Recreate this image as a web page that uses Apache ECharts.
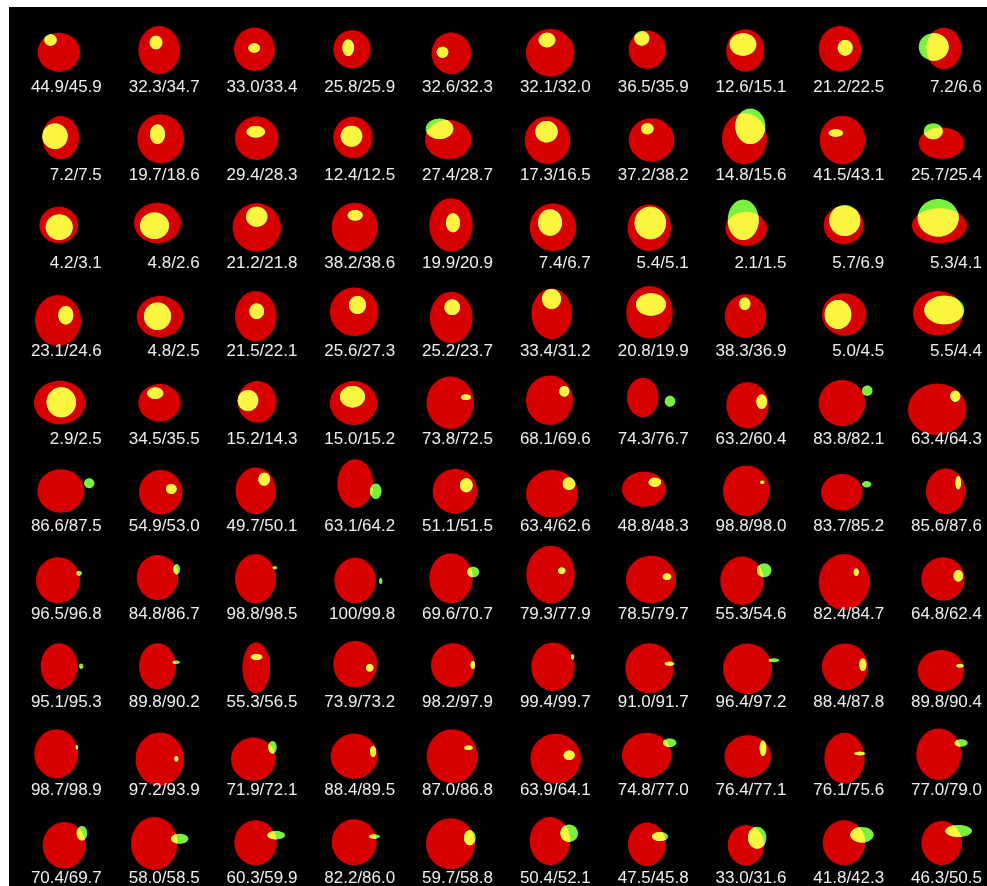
<!DOCTYPE html>
<html>
<head>
<meta charset="utf-8">
<title>Ellipse grid</title>
<script src="https://cdn.jsdelivr.net/npm/echarts@6/dist/echarts.min.js"></script>
<style>
  html, body { margin: 0; padding: 0; background: #ffffff; }
  #chart { width: 987px; height: 886px; }
</style>
</head>
<body>
<div id="chart"></div>
<script>
// Caption of every cell, row by row (10 x 10 grid)
const labels = [
  '44.9/45.9', '32.3/34.7', '33.0/33.4', '25.8/25.9', '32.6/32.3', '32.1/32.0', '36.5/35.9', '12.6/15.1', '21.2/22.5', '7.2/6.6',
  '7.2/7.5', '19.7/18.6', '29.4/28.3', '12.4/12.5', '27.4/28.7', '17.3/16.5', '37.2/38.2', '14.8/15.6', '41.5/43.1', '25.7/25.4',
  '4.2/3.1', '4.8/2.6', '21.2/21.8', '38.2/38.6', '19.9/20.9', '7.4/6.7', '5.4/5.1', '2.1/1.5', '5.7/6.9', '5.3/4.1',
  '23.1/24.6', '4.8/2.5', '21.5/22.1', '25.6/27.3', '25.2/23.7', '33.4/31.2', '20.8/19.9', '38.3/36.9', '5.0/4.5', '5.5/4.4',
  '2.9/2.5', '34.5/35.5', '15.2/14.3', '15.0/15.2', '73.8/72.5', '68.1/69.6', '74.3/76.7', '63.2/60.4', '83.8/82.1', '63.4/64.3',
  '86.6/87.5', '54.9/53.0', '49.7/50.1', '63.1/64.2', '51.1/51.5', '63.4/62.6', '48.8/48.3', '98.8/98.0', '83.7/85.2', '85.6/87.6',
  '96.5/96.8', '84.8/86.7', '98.8/98.5', '100/99.8', '69.6/70.7', '79.3/77.9', '78.5/79.7', '55.3/54.6', '82.4/84.7', '64.8/62.4',
  '95.1/95.3', '89.8/90.2', '55.3/56.5', '73.9/73.2', '98.2/97.9', '99.4/99.7', '91.0/91.7', '96.4/97.2', '88.4/87.8', '89.8/90.4',
  '98.7/98.9', '97.2/93.9', '71.9/72.1', '88.4/89.5', '87.0/86.8', '63.9/64.1', '74.8/77.0', '76.4/77.1', '76.1/75.6', '77.0/79.0',
  '70.4/69.7', '58.0/58.5', '60.3/59.9', '82.2/86.0', '59.7/58.8', '50.4/52.1', '47.5/45.8', '33.0/31.6', '41.8/42.3', '46.3/50.5'
];

// Large (red) ellipse: centre x, centre y, radius x, radius y
const redCx = [
  58.8, 159.2, 254.5, 352.0, 451.3, 550.2, 647.3, 745.3, 840.0, 943.8,
  60.7, 160.7, 256.7, 353.0, 448.3, 547.5, 651.5, 744.5, 842.5, 941.5,
  58.8, 157.5, 256.8, 354.7, 451.0, 553.0, 649.3, 746.2, 843.7, 939.5,
  58.0, 160.0, 255.8, 354.2, 451.3, 551.7, 649.5, 745.5, 844.2, 938.0,
  59.8, 159.5, 257.2, 353.7, 450.3, 549.5, 642.8, 747.5, 842.0, 937.2,
  60.8, 160.7, 255.8, 355.3, 455.0, 552.0, 644.0, 746.3, 841.8, 945.7,
  58.0, 157.5, 255.5, 355.2, 451.0, 550.5, 651.0, 742.0, 844.2, 943.0,
  59.2, 157.5, 256.2, 355.3, 453.0, 553.0, 649.5, 747.5, 845.0, 941.0,
  56.3, 159.8, 253.3, 354.2, 452.2, 555.7, 646.7, 747.7, 844.5, 938.8,
  64.2, 154.3, 255.5, 354.2, 450.5, 550.0, 647.0, 746.0, 844.0, 941.7
];
const redCy = [
  52.2, 50.0, 49.3, 49.2, 53.2, 52.8, 49.8, 50.5, 48.8, 48.5,
  137.7, 138.8, 138.3, 137.5, 139.7, 140.3, 140.0, 138.8, 140.0, 143.3,
  225.0, 223.0, 227.5, 227.2, 225.0, 227.2, 227.7, 228.7, 225.2, 225.8,
  320.5, 316.7, 316.3, 311.7, 317.5, 313.7, 312.2, 316.0, 314.5, 313.3,
  402.5, 402.8, 401.8, 403.0, 402.8, 400.3, 397.5, 405.3, 403.0, 409.2,
  491.0, 492.2, 490.7, 483.5, 491.2, 493.7, 489.2, 490.8, 492.3, 491.2,
  580.3, 577.5, 578.7, 580.5, 578.3, 574.5, 579.5, 580.8, 582.0, 579.0,
  666.3, 666.3, 667.8, 664.2, 665.3, 666.7, 668.3, 668.7, 666.7, 670.8,
  753.8, 759.3, 759.3, 756.2, 756.3, 758.7, 755.2, 756.5, 758.2, 754.3,
  845.2, 843.5, 842.8, 842.3, 843.8, 841.0, 844.3, 845.2, 842.8, 843.0
];
const redRx = [
  21.2, 20.8, 20.5, 18.7, 19.7, 24.2, 18.7, 19.0, 21.3, 17.5,
  18.3, 23.3, 21.7, 19.7, 23.3, 22.8, 22.8, 22.5, 22.8, 22.8,
  19.5, 23.5, 24.2, 23.0, 21.7, 23.3, 21.7, 20.8, 20.0, 27.5,
  23.0, 23.3, 20.8, 24.2, 21.3, 20.3, 23.2, 20.8, 22.2, 25.0,
  25.8, 21.2, 19.5, 23.7, 23.7, 23.5, 15.8, 21.2, 23.3, 29.2,
  23.5, 21.7, 20.2, 18.0, 22.3, 26.0, 22.0, 23.3, 20.8, 19.7,
  22.0, 20.8, 20.5, 20.8, 21.7, 24.2, 25.0, 21.7, 25.5, 21.7,
  18.5, 18.5, 13.8, 22.0, 22.0, 21.7, 24.2, 24.5, 23.0, 23.3,
  22.0, 24.2, 22.3, 23.5, 25.5, 25.3, 24.7, 23.3, 20.2, 22.5,
  21.5, 23.3, 21.2, 22.5, 24.5, 20.3, 19.0, 18.3, 21.3, 20.3
];
const redRy = [
  19.5, 24.0, 21.7, 19.2, 20.8, 23.8, 19.2, 21.2, 22.8, 20.8,
  21.7, 24.5, 21.7, 20.8, 19.7, 23.7, 21.7, 25.5, 24.3, 15.7,
  18.3, 20.3, 24.2, 24.5, 26.7, 23.8, 23.3, 17.0, 19.2, 17.5,
  25.5, 20.7, 25.3, 24.3, 25.8, 25.3, 26.2, 21.7, 21.2, 22.3,
  21.8, 18.8, 20.8, 22.0, 26.2, 24.7, 19.8, 23.0, 23.0, 25.8,
  21.7, 22.2, 23.3, 24.2, 22.2, 23.7, 17.5, 25.2, 18.3, 22.8,
  23.0, 22.5, 24.7, 22.8, 25.0, 28.8, 23.8, 24.2, 28.0, 21.7,
  23.0, 23.0, 25.5, 23.2, 22.0, 24.3, 25.0, 25.3, 23.3, 20.8,
  24.5, 26.7, 21.7, 22.5, 27.0, 25.0, 22.5, 21.2, 25.5, 25.7,
  23.2, 26.5, 22.5, 23.0, 25.5, 24.0, 21.7, 20.2, 22.5, 22.0
];

// Small ellipse: centre x, centre y, radius x, radius y
const smallCx = [
  50.5, 156.0, 254.2, 348.2, 442.5, 547.0, 641.8, 743.0, 845.2, 933.7,
  55.0, 157.5, 255.8, 351.5, 439.5, 546.5, 647.3, 750.3, 835.8, 933.2,
  59.2, 154.5, 256.7, 355.2, 453.0, 550.0, 650.3, 743.2, 844.8, 938.2,
  65.8, 157.5, 256.7, 357.5, 452.2, 551.5, 651.0, 744.8, 838.0, 944.3,
  61.3, 155.3, 248.0, 352.5, 466.0, 564.3, 670.0, 761.7, 867.3, 955.3,
  89.2, 171.3, 264.2, 375.8, 466.3, 569.0, 654.8, 762.3, 866.7, 958.2,
  79.3, 176.7, 275.0, 380.7, 473.3, 561.7, 667.0, 764.2, 856.2, 958.3,
  81.2, 176.3, 256.5, 369.7, 472.8, 572.7, 669.7, 774.0, 862.8, 960.0,
  77.0, 176.3, 272.5, 373.0, 468.5, 569.2, 669.7, 763.0, 859.8, 961.2,
  82.0, 179.7, 276.2, 374.5, 469.8, 569.2, 660.0, 757.2, 862.0, 958.7
];
const smallCy = [
  40.0, 42.5, 48.0, 47.7, 52.2, 40.0, 38.3, 44.5, 47.8, 47.0,
  136.2, 134.2, 131.8, 136.2, 128.7, 131.7, 128.8, 126.2, 133.0, 131.3,
  227.2, 225.7, 216.7, 215.3, 222.8, 222.5, 223.0, 219.7, 220.5, 217.8,
  315.2, 316.3, 311.2, 305.0, 307.2, 299.0, 304.5, 303.8, 314.5, 310.0,
  402.3, 393.2, 400.5, 396.7, 397.2, 391.3, 401.2, 401.7, 390.8, 396.2,
  483.3, 489.0, 479.2, 491.2, 485.3, 483.7, 482.2, 482.3, 484.2, 482.7,
  573.2, 569.2, 567.7, 581.0, 572.0, 570.7, 576.7, 570.3, 572.2, 575.8,
  666.2, 662.3, 657.0, 667.8, 665.0, 656.7, 663.7, 660.3, 664.7, 665.8,
  747.2, 758.8, 747.3, 751.5, 747.7, 755.2, 742.7, 748.2, 753.5, 743.0,
  833.2, 838.7, 835.2, 836.5, 837.8, 833.2, 836.5, 837.7, 834.8, 831.0
];
const smallRx = [
  6.2, 6.3, 5.8, 5.8, 5.8, 8.3, 7.5, 13.3, 7.5, 15.0,
  12.7, 7.5, 9.2, 10.8, 13.8, 11.2, 6.3, 15.0, 7.2, 9.5,
  13.5, 14.5, 10.7, 7.5, 7.0, 12.0, 15.7, 15.5, 15.5, 20.5,
  7.5, 13.5, 7.3, 8.5, 7.8, 9.5, 15.0, 5.5, 13.3, 20.0,
  14.7, 8.0, 10.3, 12.5, 5.0, 5.0, 5.3, 5.3, 5.3, 5.0,
  5.2, 5.3, 5.8, 5.8, 6.3, 6.3, 6.2, 2.0, 4.7, 2.8,
  2.7, 3.3, 2.3, 1.7, 6.0, 3.7, 4.3, 7.2, 2.5, 4.7,
  2.2, 3.7, 5.8, 3.7, 2.2, 1.7, 5.0, 5.3, 3.5, 3.7,
  1.3, 2.0, 4.2, 3.0, 4.2, 5.5, 6.7, 3.3, 5.5, 6.5,
  5.3, 8.7, 8.8, 5.5, 5.8, 8.8, 8.0, 9.2, 11.7, 13.3
];
const smallRy = [
  5.7, 6.8, 4.7, 8.3, 5.5, 7.3, 7.3, 11.2, 7.8, 13.7,
  12.8, 9.8, 5.8, 10.5, 10.3, 10.7, 5.5, 17.8, 3.7, 8.0,
  12.8, 13.3, 10.0, 5.3, 9.5, 13.2, 16.3, 20.3, 15.5, 18.8,
  9.2, 13.7, 7.8, 9.0, 7.8, 10.0, 11.2, 6.2, 14.5, 14.3,
  15.0, 5.8, 10.5, 10.7, 2.8, 5.3, 5.5, 7.3, 5.2, 5.5,
  5.0, 5.0, 6.5, 7.8, 7.0, 6.3, 4.5, 1.7, 3.2, 6.7,
  2.5, 5.2, 1.7, 3.3, 5.3, 3.3, 3.3, 7.0, 3.8, 5.8,
  2.8, 1.7, 3.0, 3.8, 4.0, 2.7, 2.0, 2.0, 6.3, 1.8,
  2.2, 2.8, 6.3, 5.5, 2.3, 4.8, 4.3, 7.8, 1.8, 3.7,
  7.2, 5.0, 4.2, 2.2, 7.5, 8.8, 4.5, 11.0, 7.8, 6.0
];

// Grid geometry (axis units = canvas pixels)
const X_MIN = 9, X_MAX = 987, Y_MIN = 7, Y_MAX = 886;
const COLS = 10, ROWS = 10;
const CELL_W = (X_MAX - X_MIN) / COLS;
const CELL_H = (Y_MAX - Y_MIN) / ROWS;

const RED = '#d60000';
const GREEN = 'rgb(122,240,64)';   // part of the small ellipse lying outside the red one
const YELLOW = 'rgb(250,246,64)';  // part of the small ellipse lying on the red one

const cells = labels.map((text, i) => [
  i % COLS, Math.floor(i / COLS),
  redCx[i], redCy[i], redRx[i], redRy[i],
  smallCx[i], smallCy[i], smallRx[i], smallRy[i]
]);

// Polygon approximation of an ellipse (counter-clockwise in numeric x/y)
function ellipsePoints(cx, cy, rx, ry, n) {
  const pts = [];
  for (let k = 0; k < n; k++) {
    const t = (2 * Math.PI * k) / n;
    pts.push([cx + rx * Math.cos(t), cy + ry * Math.sin(t)]);
  }
  return pts;
}

// Sutherland-Hodgman: clip a polygon against a convex polygon
function clipConvex(subject, clip) {
  let out = subject;
  for (let i = 0; i < clip.length && out.length; i++) {
    const a = clip[i], b = clip[(i + 1) % clip.length];
    const inside = p => (b[0] - a[0]) * (p[1] - a[1]) - (b[1] - a[1]) * (p[0] - a[0]) >= 0;
    const cross = (p, q) => {
      const dx1 = q[0] - p[0], dy1 = q[1] - p[1];
      const dx2 = b[0] - a[0], dy2 = b[1] - a[1];
      const den = dx1 * dy2 - dy1 * dx2;
      const t = ((a[0] - p[0]) * dy2 - (a[1] - p[1]) * dx2) / den;
      return [p[0] + t * dx1, p[1] + t * dy1];
    };
    const input = out;
    out = [];
    for (let j = 0; j < input.length; j++) {
      const cur = input[j], prev = input[(j + input.length - 1) % input.length];
      const cIn = inside(cur), pIn = inside(prev);
      if (cIn) {
        if (!pIn) out.push(cross(prev, cur));
        out.push(cur);
      } else if (pIn) {
        out.push(cross(prev, cur));
      }
    }
  }
  return out;
}

function renderCell(params, api) {
  const col = api.value(0), row = api.value(1);
  const rc = api.coord([api.value(2), api.value(3)]);
  const rs = api.size([api.value(4), api.value(5)]);
  const sc = api.coord([api.value(6), api.value(7)]);
  const ss = api.size([api.value(8), api.value(9)]);
  const lp = api.coord([X_MIN + (col + 1) * CELL_W - 5, Y_MIN + row * CELL_H + 80.3]);

  const redPoly = ellipsePoints(rc[0], rc[1], Math.abs(rs[0]), Math.abs(rs[1]), 160);
  const smallPoly = ellipsePoints(sc[0], sc[1], Math.abs(ss[0]), Math.abs(ss[1]), 96);
  const overlap = clipConvex(smallPoly, redPoly);

  const children = [
    {
      type: 'ellipse',
      shape: { cx: rc[0], cy: rc[1], rx: Math.abs(rs[0]), ry: Math.abs(rs[1]) },
      style: { fill: RED }
    },
    {
      type: 'ellipse',
      shape: { cx: sc[0], cy: sc[1], rx: Math.abs(ss[0]), ry: Math.abs(ss[1]) },
      style: { fill: GREEN }
    }
  ];
  if (overlap.length > 2) {
    children.push({
      type: 'polygon',
      shape: { points: overlap },
      style: { fill: YELLOW }
    });
  }
  children.push({
    type: 'text',
    x: lp[0],
    y: lp[1],
    style: {
      text: labels[params.dataIndex],
      fill: '#eeeeee',
      font: '17px "Liberation Sans", Arial, sans-serif',
      align: 'right',
      verticalAlign: 'middle'
    }
  });
  return { type: 'group', children: children };
}

const chart = echarts.init(document.getElementById('chart'), null, { renderer: 'canvas' });
chart.setOption({
  animation: false,
  backgroundColor: '#ffffff',
  grid: {
    left: X_MIN, top: Y_MIN, right: 0, bottom: 0,
    show: true, backgroundColor: '#000000', borderWidth: 0
  },
  xAxis: { type: 'value', min: X_MIN, max: X_MAX, show: false },
  yAxis: { type: 'value', min: Y_MIN, max: Y_MAX, inverse: true, show: false },
  series: [{
    type: 'custom',
    coordinateSystem: 'cartesian2d',
    clip: false,
    silent: true,
    encode: { x: [2, 6], y: [3, 7] },
    renderItem: renderCell,
    data: cells
  }]
});
</script>
</body>
</html>
